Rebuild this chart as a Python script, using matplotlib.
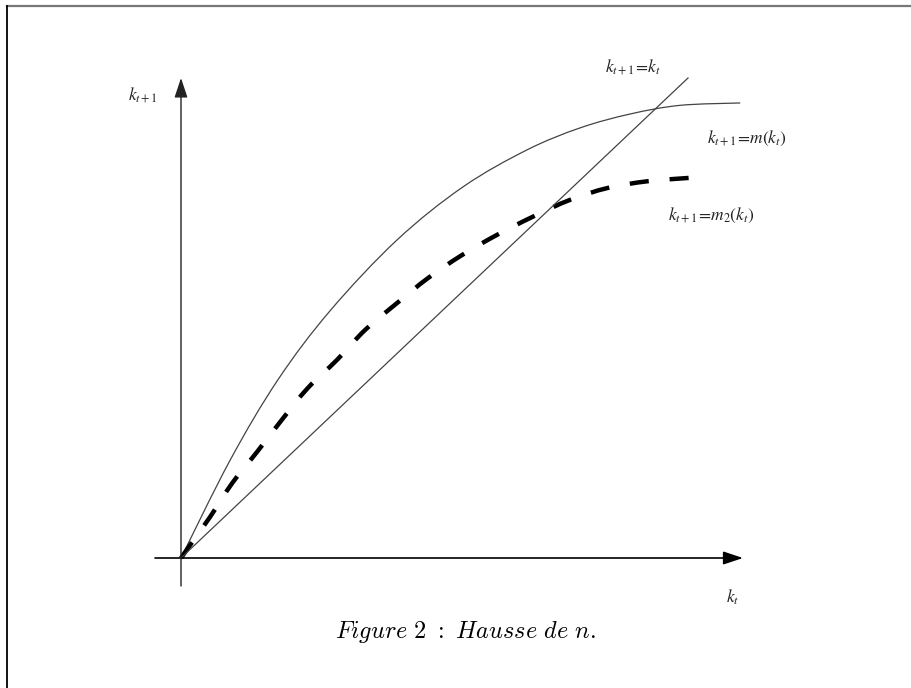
import numpy as np
import matplotlib
matplotlib.use("Agg")
import matplotlib.pyplot as plt
from matplotlib.lines import Line2D
from matplotlib.path import Path
from matplotlib.patches import PathPatch

# Diagram of k_{t+1} against k_t: the 45 degree line, the original map m
# and the map m2 after the rise in n.
k_diag = [0.0, 1.0]

k_m = [0.0, 0.097, 0.191, 0.294, 0.426, 0.556, 0.682, 0.787, 0.886, 0.984, 1.103]
m_vals = [0.0, 0.204, 0.371, 0.515, 0.6625, 0.773, 0.850, 0.896, 0.925, 0.943, 0.948]

k_m2 = [0.0, 0.018, 0.057, 0.101, 0.150, 0.199, 0.250, 0.308, 0.363, 0.426,
        0.487, 0.554, 0.623, 0.692, 0.767, 0.842, 0.921, 1.004]
m2_vals = [0.0, 0.027, 0.085, 0.156, 0.221, 0.288, 0.354, 0.413, 0.475, 0.531,
           0.583, 0.631, 0.673, 0.710, 0.746, 0.771, 0.785, 0.792]

W, H = 912, 688
X0, Y0 = 181, 558      # origin in pixels
SX, SY = 507, 480      # pixels per unit of k


def to_data(px, py):
    return (px - X0) / SX, (Y0 - py) / SY


def smooth_path(xs, ys):
    # Catmull-Rom through the points, written as cubic Bezier segments
    pts = np.column_stack([xs, ys])
    n = len(pts)
    verts = [pts[0]]
    codes = [Path.MOVETO]
    for i in range(n - 1):
        p0 = pts[max(i - 1, 0)]
        p1 = pts[i]
        p2 = pts[i + 1]
        p3 = pts[min(i + 2, n - 1)]
        verts += [p1 + (p2 - p0) / 6, p2 - (p3 - p1) / 6, p2]
        codes += [Path.CURVE4] * 3
    return Path(verts, codes)


fig = plt.figure(figsize=(W / 100, H / 100), dpi=100)
ax = fig.add_axes([0, 0, 1, 1])
ax.set_xlim(-X0 / SX, (W - X0) / SX)
ax.set_ylim((Y0 - H) / SY, Y0 / SY)
ax.axis("off")

# frame (top and left edges only)
fig.add_artist(Line2D([7.5 / W, 1], [1 - 6 / H, 1 - 6 / H], color="#777777", lw=1.6))
fig.add_artist(Line2D([7.5 / W, 7.5 / W], [0, 1 - 6 / H], color="black", lw=1.3))

# axes with arrow heads
head = "-|>,head_length=1.2,head_width=0.4"
ax.annotate("", xy=to_data(743, Y0), xytext=to_data(155, Y0),
            arrowprops=dict(arrowstyle=head, color="black", lw=1.2,
                            shrinkA=0, shrinkB=0))
ax.annotate("", xy=to_data(X0, 78), xytext=to_data(X0, 586),
            arrowprops=dict(arrowstyle=head, color="#222222", lw=1.0,
                            shrinkA=0, shrinkB=0))

ax.plot(k_diag, k_diag, color="#444444", lw=0.9)
ax.add_patch(PathPatch(smooth_path(k_m, m_vals), fill=False,
                       edgecolor="#444444", lw=0.9))
ax.add_patch(PathPatch(smooth_path(k_m2, m2_vals), fill=False,
                       edgecolor="black", lw=3.2, linestyle=(0, (4.3, 4.7)),
                       capstyle="butt"))

lab = dict(fontsize=12.5, math_fontfamily="stix", color="#222222")
ax.text(*to_data(605, 67), r"$k_{t+1}\!=\!k_t$", ha="left", va="center", **lab)
ax.text(*to_data(707, 138), r"$k_{t+1}\!=\!m(k_t)$", ha="left", va="center", **lab)
ax.text(*to_data(668, 215), r"$k_{t+1}\!=\!m_2(k_t)$", ha="left", va="center", **lab)
ax.text(*to_data(128, 95), r"$k_{t+1}$", ha="left", va="center", **lab)
ax.text(*to_data(726, 597), r"$k_t$", ha="left", va="center", **lab)

ax.text(*to_data(465, 632), r"$\mathit{Figure\ 2\ :\ Hausse\ de\ n.}$",
        ha="center", va="center", fontsize=17.5, math_fontfamily="cm")

fig.savefig("out.png", dpi=100)
